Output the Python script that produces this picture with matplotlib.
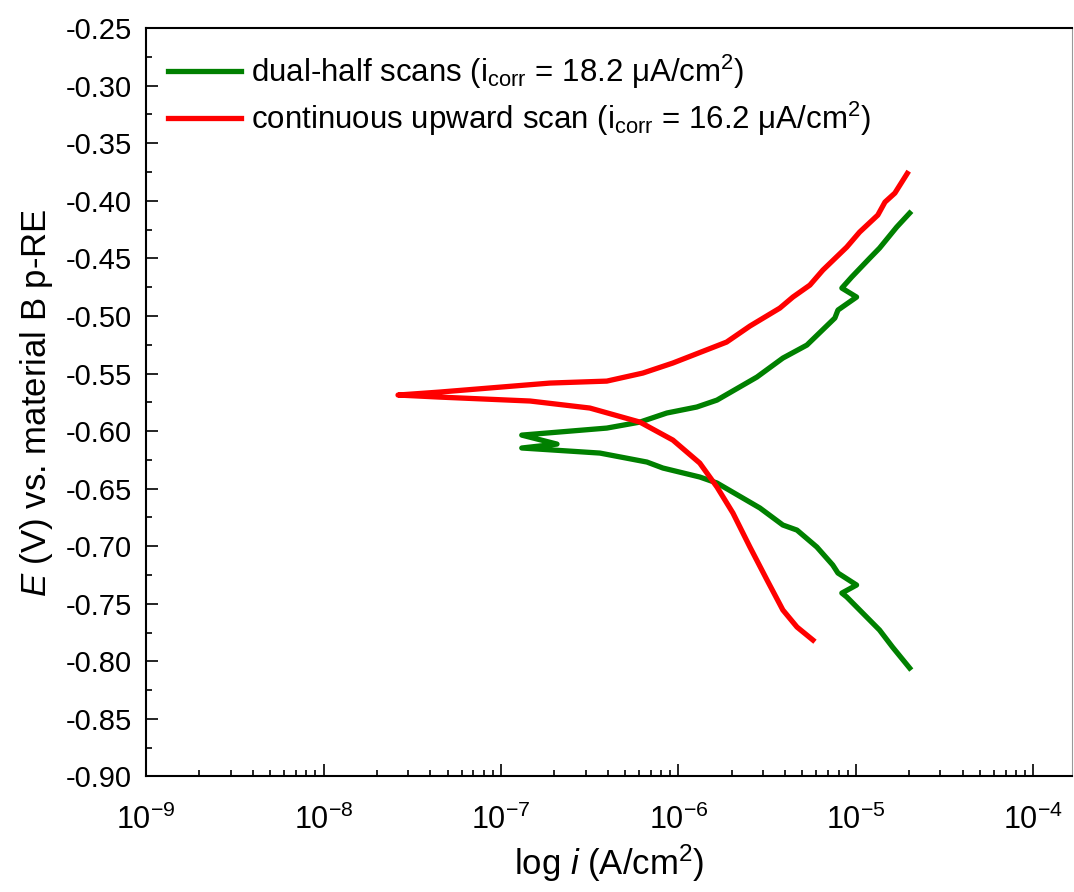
import matplotlib
matplotlib.use("Agg")
import matplotlib.pyplot as plt
from matplotlib.ticker import (MultipleLocator, FormatStrFormatter, LogLocator,
                               FixedLocator, LogFormatterSciNotation, NullFormatter)

plt.rcParams["font.family"] = ["Liberation Sans", "DejaVu Sans"]
plt.rcParams["mathtext.fontset"] = "custom"
plt.rcParams["mathtext.rm"] = "Liberation Sans"
plt.rcParams["mathtext.it"] = "Liberation Sans:italic"
plt.rcParams["axes.unicode_minus"] = False

# continuous upward scan: cathodic end -> corrosion tip -> anodic end
red_i = [5.73e-6, 4.66e-6, 3.88e-6, 3.16e-6, 2.53e-6, 2.03e-6, 1.65e-6, 1.32e-6,
         9.31e-7, 6.07e-7, 3.17e-7, 1.46e-7, 4.53e-8, 2.63e-8, 4.53e-8, 1.89e-7,
         3.95e-7, 6.31e-7, 9.31e-7, 1.87e-6, 2.53e-6, 3.73e-6, 4.42e-6, 5.51e-6,
         6.52e-6, 8.89e-6, 1.05e-5, 1.33e-5, 1.46e-5, 1.66e-5, 1.95e-5]
red_E = [-0.7815, -0.7702, -0.7554, -0.7294, -0.7007, -0.6712, -0.6486, -0.6278,
         -0.6078, -0.5922, -0.5800, -0.5739, -0.5705, -0.5687, -0.5661, -0.5583,
         -0.5566, -0.5496, -0.5409, -0.5227, -0.5088, -0.4932, -0.4836, -0.4732,
         -0.4602, -0.4402, -0.4272, -0.4124, -0.4011, -0.3933, -0.3762]

# dual-half scans: cathodic half joined to anodic half at the tip
green_i = [2.01e-5, 1.61e-5, 1.36e-5, 8.89e-6, 8.34e-6, 1.01e-5, 7.93e-6, 7.41e-6,
           6.03e-6, 4.66e-6, 3.88e-6, 2.88e-6, 1.65e-6, 1.32e-6, 8.18e-7, 6.65e-7,
           3.61e-7, 1.31e-7, 2.07e-7, 1.31e-7, 3.95e-7, 6.07e-7, 8.61e-7, 1.27e-6,
           1.65e-6, 2.77e-6, 3.88e-6, 5.30e-6, 7.62e-6, 7.93e-6, 1.01e-5, 8.34e-6,
           9.48e-6, 1.20e-5, 1.36e-5, 1.70e-5, 2.01e-5]
green_E = [-0.8058, -0.7876, -0.7728, -0.7441, -0.7407, -0.7337, -0.7233, -0.7163,
           -0.7007, -0.6860, -0.6816, -0.6668, -0.6451, -0.6399, -0.6321, -0.6269,
           -0.6191, -0.6147, -0.6113, -0.6035, -0.5974, -0.5922, -0.5843, -0.5791,
           -0.5731, -0.5531, -0.5366, -0.5253, -0.5018, -0.4949, -0.4836, -0.4758,
           -0.4662, -0.4497, -0.4411, -0.4228, -0.4107]

x_ticks = [1e-9, 1e-8, 1e-7, 1e-6, 1e-5, 1e-4]

labels = [r"dual-half scans (i$_{\rm corr}$ = 18.2 μA/cm$^{2}$)",
          r"continuous upward scan (i$_{\rm corr}$ = 16.2 μA/cm$^{2}$)"]

fig = plt.figure(figsize=(10.74, 8.92), dpi=100)
ax = fig.add_axes([0.136, 0.1295, 0.862, 0.839])

ax.plot(green_i, green_E, color="#008000", lw=3.8, solid_joinstyle="round", label=labels[0])
ax.plot(red_i, red_E, color="#ff0000", lw=3.8, solid_joinstyle="round", label=labels[1])

ax.set_xscale("log")
ax.set_xlim(1e-9, 1.65e-4)
ax.set_ylim(-0.90, -0.25)

ax.yaxis.set_major_locator(MultipleLocator(0.05))
ax.yaxis.set_minor_locator(MultipleLocator(0.025))
ax.yaxis.set_major_formatter(FormatStrFormatter("%.2f"))
ax.xaxis.set_major_locator(FixedLocator(x_ticks))
ax.xaxis.set_major_formatter(LogFormatterSciNotation())
ax.xaxis.set_minor_locator(LogLocator(base=10, subs=range(2, 10), numticks=20))
ax.xaxis.set_minor_formatter(NullFormatter())

ax.tick_params(which="both", direction="in", top=False, right=False, width=1.2)
ax.tick_params(which="major", length=8.5)
ax.tick_params(axis="y", which="major", pad=10, labelsize=21)
ax.tick_params(axis="x", which="major", pad=20, labelsize=22)
ax.tick_params(which="minor", length=4)

for s in ["left", "bottom", "top"]:
    ax.spines[s].set_linewidth(1.5)
ax.spines["right"].set_linewidth(0.8)
ax.spines["right"].set_color("#999999")

ax.set_xlabel(r"log $i$ (A/cm$^{2}$)", fontsize=25, labelpad=5)
ax.set_ylabel(r"$E$ (V) vs. material B p-RE", fontsize=25, labelpad=8)

ax.legend(loc="upper left", bbox_to_anchor=(0.0, 0.997), frameon=False, fontsize=22.5,
          handlelength=2.35, handletextpad=0.3, labelspacing=0.3, borderaxespad=0.3)

fig.savefig("out.png", dpi=100)
